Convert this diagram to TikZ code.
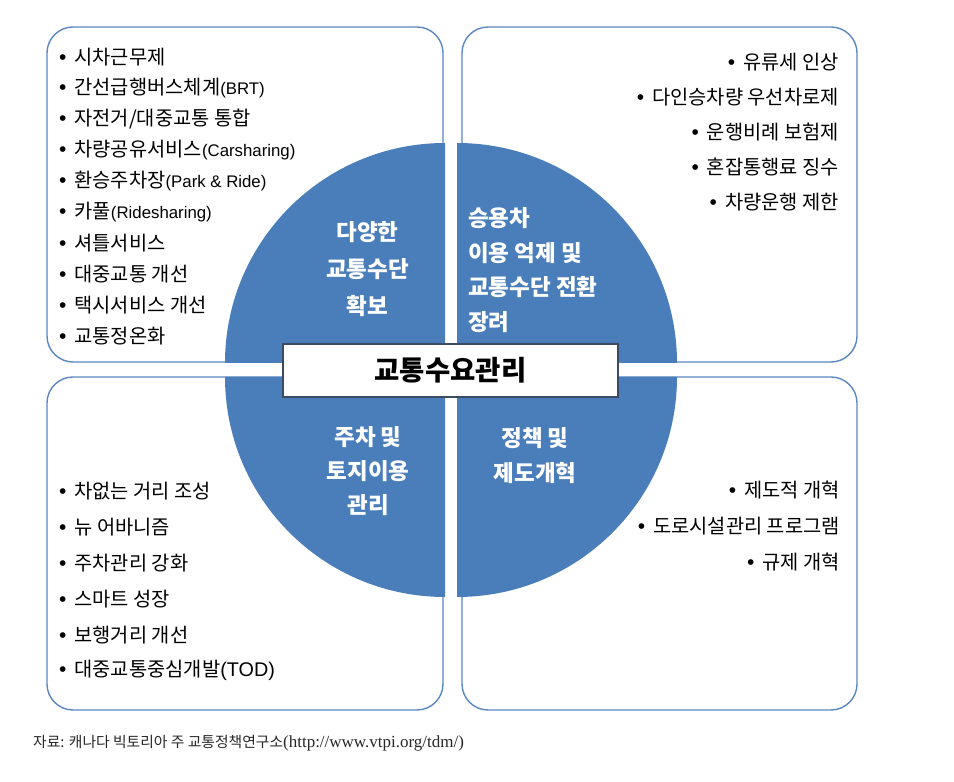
\documentclass[tikz,border=0pt]{standalone}
\usepackage{fontspec}
\setmainfont{Noto Sans CJK KR}
\newfontfamily\latin{Liberation Sans}
\newfontfamily\serif{Liberation Serif}
\usepackage{xcolor}
\definecolor{qblue}{HTML}{4A7EBB}
\definecolor{lineblue}{HTML}{5B87C1}
\definecolor{framegray}{HTML}{3B4B63}
\tikzstyle{list box}=[lineblue,line width=1.4pt,rounded corners=26pt,fill=white]
\tikzstyle{quarter}=[fill=qblue,draw=none]
\tikzstyle{item}=[inner sep=0pt,font=\fontsize{19.8}{20}\selectfont]
\tikzstyle{quarter label}=[inner sep=0pt,white,font=\fontsize{22.5}{37}\selectfont\bfseries]
\tikzstyle{title box}=[draw=framegray,line width=1.6pt,fill=white,minimum width=335pt,
  minimum height=53pt,inner sep=0pt,font=\fontsize{27.5}{28}\selectfont\bfseries]
\newcommand{\itm}[1]{{\latin\fontsize{21}{18}\selectfont\textbullet}\hspace{8pt}#1}
\newcommand{\en}[1]{{\latin\fontsize{16.8}{18}\selectfont #1}}

\begin{document}
\begin{tikzpicture}[x=1pt,y=1pt]
  \def\R{220}
  \useasboundingbox (0,0) rectangle (954,782);
  \coordinate (CTL) at (445,419);
  \coordinate (CTR) at (457,419);
  \coordinate (CBL) at (445,405);
  \coordinate (CBR) at (457,405);

  % BOXES
  \draw[list box] (47,420) rectangle (443,755);
  \draw[list box] (462,420) rectangle (857,755);
  \draw[list box] (47,72) rectangle (443,405);
  \draw[list box] (462,72) rectangle (857,405);

  % QUARTERS
  \fill[quarter] (CTL) -- ++(-\R,0) arc (180:90:\R) -- cycle;
  \fill[quarter] (CTR) -- ++(\R,0) arc (0:90:\R) -- cycle;
  \fill[quarter] (CBL) -- ++(-\R,0) arc (180:270:\R) -- cycle;
  \fill[quarter] (CBR) -- ++(\R,0) arc (0:-90:\R) -- cycle;

  % QUARTER LABELS
  \node[quarter label,align=center] (lmodes) at (367.5,513) {다양한\\교통수단\\확보};
  \node[quarter label,align=left,anchor=west,font=\fontsize{22.5}{34.5}\selectfont\bfseries]
    (lcar) at (468,512) {승용차\\이용 억제 및\\교통수단 전환\\장려};
  \node[quarter label,align=center,font=\fontsize{22.5}{34}\selectfont\bfseries]
    (lland) at (368,311) {주차 및\\토지이용\\관리};
  \node[quarter label,align=center,font=\fontsize{22.5}{35}\selectfont\bfseries]
    (lpolicy) at (535,326.5) {정책 및\\제도개혁};

  % TITLE
  \node[title box] (title) at (450.5,411.5) {교통수요관리};

  % LIST top left
  \foreach \t [count=\i] in {시차근무제,
      간선급행버스체계\en{(BRT)},
      자전거/대중교통 통합,
      차량공유서비스\en{(Carsharing)},
      환승주차장\en{(Park \& Ride)},
      카풀\en{(Ridesharing)},
      셔틀서비스,
      대중교통 개선,
      택시서비스 개선,
      교통정온화}{
    \node[item,anchor=west] (tl\i) at (59,{782-57-31*(\i-1)}) {\itm{\t}};
  }

  % LIST top right
  \foreach \t [count=\i] in {유류세 인상,
      다인승차량 우선차로제,
      운행비례 보험제,
      혼잡통행료 징수,
      차량운행 제한}{
    \node[item,anchor=east] (tr\i) at (839,{782-61.7-35*(\i-1)}) {\itm{\t}};
  }

  % LIST bottom left
  \foreach \t [count=\i] in {차없는 거리 조성,
      뉴 어바니즘,
      주차관리 강화,
      스마트 성장,
      보행거리 개선,
      대중교통중심개발{\latin(TOD)}}{
    \node[item,anchor=west] (bl\i) at (59,{782-490.7-36*(\i-1)}) {\itm{\t}};
  }

  % LIST bottom right
  \foreach \t [count=\i] in {제도적 개혁,
      도로시설관리 프로그램,
      규제 개혁}{
    \node[item,anchor=east] (br\i) at (840,{782-490-36*(\i-1)}) {\itm{\t}};
  }

  % SOURCE
  \node[inner sep=0pt,anchor=west,text=black!85,font=\fontsize{14.8}{15}\selectfont]
    (source) at (33,39) {자료: 캐나다 빅토리아 주 교통정책연구소{\serif\fontsize{17}{17}\selectfont(http://www.vtpi.org/tdm/)}};
\end{tikzpicture}
\end{document}
